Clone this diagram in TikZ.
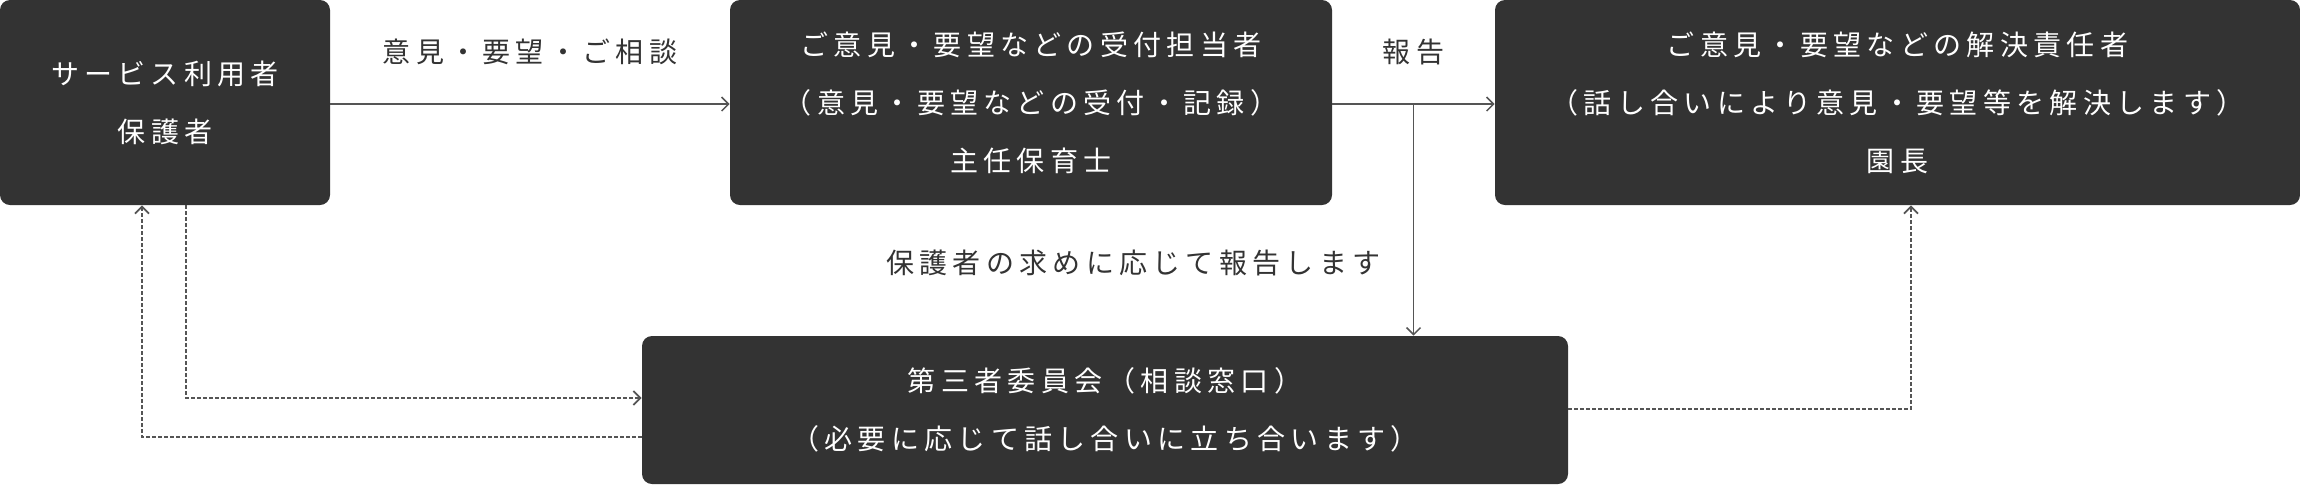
\documentclass[tikz,border=0pt]{standalone}
\usepackage{fontspec}
\newfontfamily\jpfont[LetterSpace=19]{Noto Sans CJK JP}
\usetikzlibrary{arrows.meta}
\tikzset{>={Straight Barb[length=3.5pt,width=7pt]}}
\definecolor{boxgray}{HTML}{333333}
\definecolor{linegray}{HTML}{555555}

\begin{document}
\begin{tikzpicture}[x=0.5pt,y=-0.5pt,
  box/.style={fill=boxgray, rounded corners=5pt, text=white, align=center, inner sep=0pt},
  solidline/.style={draw=linegray, line width=0.75pt},
  dashline/.style={draw=linegray, line width=0.9pt, dash pattern=on 2pt off 1pt},
  lbl/.style={text=boxgray, inner sep=0pt},
  font=\jpfont\fontsize{14}{29}\selectfont]

  \useasboundingbox (0,0) rectangle (2300,484);

  %% boxes
  \node[box, minimum width=165pt, minimum height=102.5pt] (user) at (165,102.5)
    {サービス利用者\\保護者};
  \node[box, minimum width=301pt, minimum height=102.5pt] (recv) at (1031,102.5)
    {ご意見・要望などの受付担当者\\（意見・要望などの受付・記録）\\主任保育士};
  \node[box, minimum width=402.5pt, minimum height=102.5pt] (chief) at (1897.5,102.5)
    {ご意見・要望などの解決責任者\\（話し合いにより意見・要望等を解決します）\\園長};
  \node[box, minimum width=463pt, minimum height=74pt] (third) at (1105,410)
    {第三者委員会（相談窓口）\\（必要に応じて話し合いに立ち合います）};

  %% labels
  \node[lbl] (lbask) at (530,52) {意見・要望・ご相談};
  \node[lbl] (lbrep) at (1413.5,52) {報告};
  \node[lbl, anchor=east] (lbneed) at (1381,263) {保護者の求めに応じて報告します};

  %% solid arrows
  \coordinate (jn) at (1413.5,104);
  \draw[solidline,->] (user.east |- jn) -- (recv.west |- jn); % user->recv
  \draw[solidline,->] (recv.east |- jn) -- (chief.west |- jn); % recv->chief
  \draw[solidline,->] (jn) -- (jn |- third.north); % report->third

  %% dashed arrows
  \coordinate (bendA) at (186,398);
  \coordinate (bendB) at (142,437);
  \coordinate (bendC) at (1911,409);
  \draw[dashline,->] (user.south -| bendA) -- (bendA) -- (third.west |- bendA); % user->third
  \draw[dashline,->] (third.west |- bendB) -- (bendB) -- (user.south -| bendB); % third->user
  \draw[dashline,->] (third.east |- bendC) -- (bendC) -- (chief.south -| bendC); % third->chief

\end{tikzpicture}
\end{document}
